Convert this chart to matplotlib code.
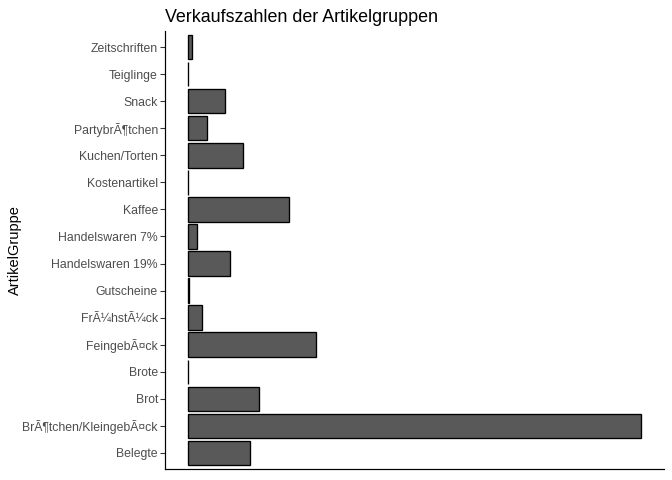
import matplotlib
matplotlib.use("Agg")
import matplotlib.pyplot as plt

categories = ["Belegte", "BrÃ¶tchen/KleingebÃ¤ck", "Brot", "Brote", "FeingebÃ¤ck",
              "FrÃ¼hstÃ¼ck", "Gutscheine", "Handelswaren 19%", "Handelswaren 7%",
              "Kaffee", "Kostenartikel", "Kuchen/Torten", "PartybrÃ¶tchen", "Snack",
              "Teiglinge", "Zeitschriften"]
values = [62, 454, 71, 0, 128, 14, 1.4, 42, 9, 101.4, 0, 55.4, 19, 37, 0, 4.4]

plt.rcParams['font.family'] = ['Liberation Sans', 'DejaVu Sans']

fig = plt.figure(figsize=(7, 5), dpi=96)
ax = fig.add_axes([165.3/672, 11/480, (664-165.3)/672, (469-31)/480])

pos = list(range(len(categories)))
ax.barh(pos, values, height=0.9, color="#595959", edgecolor="black", linewidth=1.0)

vmax = max(values)
ax.set_xlim(-0.05*vmax, 1.05*vmax)
ax.set_ylim(-0.6, len(categories) - 1 + 0.6)
ax.set_yticks(pos)
ax.set_yticklabels(categories, fontsize=9.2, color="#4D4D4D")
ax.tick_params(axis='y', length=3.5, width=0.8, color="#333333", pad=2)
ax.set_xticks([])

for s in ["top", "right"]:
    ax.spines[s].set_visible(False)
for s in ["left", "bottom"]:
    ax.spines[s].set_linewidth(0.9)
    ax.spines[s].set_color("black")

fig.text(165.3/672, 1 - 17/480, "Verkaufszahlen der Artikelgruppen", fontsize=13.4,
         ha="left", va="center", color="black")
fig.text(15/672, 1 - 250/480, "ArtikelGruppe", fontsize=11, rotation=90,
         ha="center", va="center", color="black")

fig.savefig("out.png", dpi=96)
